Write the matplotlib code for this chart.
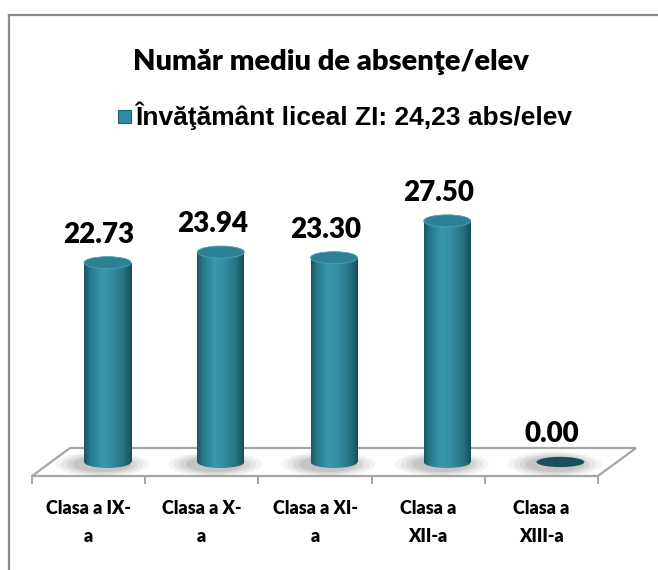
import numpy as np
import matplotlib.pyplot as plt
from matplotlib.patches import Ellipse, Polygon, Rectangle
from matplotlib.lines import Line2D
from matplotlib.colors import LinearSegmentedColormap

categories = ["Clasa a IX-\na", "Clasa a X-\na", "Clasa a XI-\na",
              "Clasa a\nXII-a", "Clasa a\nXIII-a"]
values = [22.73, 23.94, 23.30, 27.50, 0.00]
title = "Număr mediu de absenţe/elev"
legend_label = "Învăţământ liceal ZI: 24,23 abs/elev"

W, H = 658, 570
fig = plt.figure(figsize=(W / 100, H / 100), dpi=100)
ax = fig.add_axes([0, 0, 1, 1])
ax.axis("off")

# pixel scale of the data axes
px_x = 113.2          # px per category
px_y = 8.77           # px per unit
x0 = -107.6 / px_x
x1 = (W - 107.6) / px_x
y0 = -(H - 462) / px_y
y1 = 462 / px_y

dx = 19 / px_x        # half depth of the floor
dy = 14 / px_y
bar_w = 47 / px_x
ell_h = 12 / px_y
n = len(values)

# floor
floor = Polygon([(-0.5 - dx, -dy), (n - 0.5 - dx, -dy),
                 (n - 0.5 + dx, dy), (-0.5 + dx, dy)],
                closed=True, facecolor="white", edgecolor="#a6a6a6",
                lw=1.6, zorder=1)
ax.add_patch(floor)
for k in range(n + 1):
    ax.add_line(Line2D([k - 0.5 - dx] * 2, [-dy, -dy - 7 / px_y],
                       color="#a6a6a6", lw=1.4, zorder=1))

cyl = LinearSegmentedColormap.from_list(
    "cyl", [(0, "#1a5664"), (0.12, "#27788b"), (0.38, "#3a97ac"),
            (0.55, "#3690a5"), (0.85, "#25707f"), (1, "#184c59")])
grad = np.linspace(0, 1, 200).reshape(1, -1)

bold = dict(fontweight="heavy", family="Lato", color="black")

for i, v in enumerate(values):
    # soft shadow on the floor
    for s, a in [(2.0, 0.07), (1.75, 0.1), (1.5, 0.13), (1.25, 0.16)]:
        ax.add_patch(Ellipse((i - 0.05, -0.25), bar_w * s, ell_h * s * 1.05,
                             facecolor="#6f6f6f", edgecolor="none",
                             alpha=a, zorder=2))
    if v > 0:
        body = Rectangle((i - bar_w / 2, 0), bar_w, v, transform=ax.transData)
        bottom = Ellipse((i, 0), bar_w, ell_h, facecolor="none", edgecolor="none")
        ax.add_patch(bottom)
        img = ax.imshow(grad, cmap=cyl, aspect="auto", zorder=3,
                        extent=(i - bar_w / 2, i + bar_w / 2, 0, v))
        img.set_clip_path(body)
        img2 = ax.imshow(grad, cmap=cyl, aspect="auto", zorder=3,
                         extent=(i - bar_w / 2, i + bar_w / 2, -ell_h / 2, 0))
        img2.set_clip_path(bottom)
        ax.add_patch(Ellipse((i, v), bar_w, ell_h, facecolor="#2d8195",
                             edgecolor="#4aa2b6", lw=0.6, zorder=4))
    else:
        ax.add_patch(Ellipse((i, 0), bar_w * 1.02, ell_h * 0.85,
                             facecolor="#1b4d5a", edgecolor="none", zorder=4))
    ax.text(i - 0.075, v + 20 / px_y, f"{v:.2f}", ha="center", va="baseline",
            fontsize=20, zorder=5, **bold)

# category labels under the front edge
for k, lab in enumerate(categories):
    for j, line in enumerate(lab.split("\n")):
        ax.text(k - dx, -(508 + 29 * j - 462) / px_y, line, ha="center",
                va="center", fontsize=13, **bold)

ax.set_xlim(x0, x1)
ax.set_ylim(y0, y1)

# title and legend
fig.text(331 / W, 1 - 62 / H, title, ha="center", va="center",
         fontsize=21, **bold)
fig.patches.append(Rectangle((118 / W, 1 - 123 / H), 13 / W, 13 / H,
                             transform=fig.transFigure, facecolor="#2f8ba0",
                             edgecolor="#1f6474", lw=0.8))
fig.text(135 / W, 1 - 116 / H, legend_label, ha="left", va="center",
         fontsize=19, fontweight="bold", family="Liberation Sans")

# chart border (left and top visible)
fig.add_artist(Line2D([9 / W, 9 / W], [0, 1 - 15 / H], color="#8c8c8c",
                      lw=1.6, transform=fig.transFigure))
fig.add_artist(Line2D([9 / W, 1], [1 - 15 / H, 1 - 15 / H], color="#8c8c8c",
                      lw=1.6, transform=fig.transFigure))

fig.savefig("out.png", dpi=100)
